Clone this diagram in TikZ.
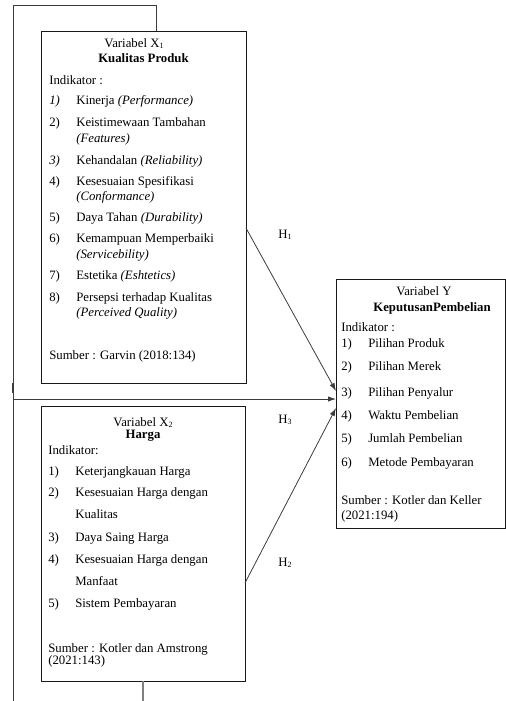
\documentclass[tikz,border=0pt]{standalone}
\usepackage{fontspec}
\setmainfont{Liberation Serif}
\usetikzlibrary{positioning,arrows.meta}
\definecolor{mygray}{HTML}{3c3c3c}
\newcommand{\subidx}[1]{\raisebox{-0.25ex}{\fontsize{6}{6}\selectfont #1}}

\begin{document}
\begin{tikzpicture}[x=0.75pt,y=-0.75pt,
        box/.style={rectangle, draw=black!90, line width=0.6pt, anchor=north west, inner sep=0pt, outer sep=0pt},
        txt/.style={anchor=base west, inner sep=0pt, font=\fontsize{9.6}{11}\selectfont},
        ttl/.style={anchor=base, inner sep=0pt, font=\fontsize{9.6}{11}\selectfont},
        line/.style={draw=mygray, line width=0.6pt},
        arr/.style={line, -{Latex[length=6pt,width=4pt]}}]
        \useasboundingbox (0,0) rectangle (506,701);
        % boxes
        \node[box, minimum width=153.75pt, minimum height=264pt] at (41,31) (X1) {};
        \node[box, minimum width=153pt, minimum height=206.25pt] at (41,406) (X2) {};
        \node[box, minimum width=127.1pt, minimum height=186.75pt] at (336,279) (Y) {};
        % variabel X1
        \node[ttl] at (134,47) (x1var) {Variabel X\subidx{1}};
        \node[ttl] at (143.5,62) (x1name) {\textbf{Kualitas Produk}};
        \node[txt] at (49,84) (x1ind) {Indikator :};
        \foreach \i/\y/\num/\item in {1/104/{\textit{1)}}/{Kinerja \textit{(Performance)}},
                2/126/{2)}/{Keistimewaan Tambahan},
                3/164/{\textit{3)}}/{Kehandalan \textit{(Reliability)}},
                4/185/{4)}/{Kesesuaian Spesifikasi},
                5/221/{5)}/{Daya Tahan \textit{(Durability)}},
                6/242/{6)}/{Kemampuan Memperbaiki},
                7/279/{7)}/{Estetika \textit{(Eshtetics)}},
                8/301/{8)}/{Persepsi terhadap Kualitas}}{
            \node[txt] at (49,\y) (x1n\i) {\num};
            \node[txt] at (76,\y) (x1i\i) {\item};
        }
        \node[txt] at (76,142) (x1w2) {\textit{(Features)}};
        \node[txt] at (76,200) (x1w4) {\textit{(Conformance)}};
        \node[txt] at (76,258) (x1w6) {\textit{(Servicebility)}};
        \node[txt] at (76,316) (x1w8) {\textit{(Perceived Quality)}};
        \node[txt] at (49,359) (x1src) {Sumber : Garvin (2018:134)};
        % variabel X2
        \node[ttl] at (143,426) (x2var) {Variabel X\subidx{2}};
        \node[ttl] at (143,438) (x2name) {\textbf{Harga}};
        \node[txt] at (48,454) (x2ind) {Indikator:};
        \foreach \i/\y/\item in {1/475/{Keterjangkauan Harga},
                2/496/{Kesesuaian Harga dengan},
                3/541/{Daya Saing Harga},
                4/563/{Kesesuaian Harga dengan},
                5/607/{Sistem Pembayaran}}{
            \node[txt] at (48,\y) (x2n\i) {\i)};
            \node[txt] at (75,\y) (x2i\i) {\item};
        }
        \node[txt] at (75,518) (x2w2) {Kualitas};
        \node[txt] at (75,585) (x2w4) {Manfaat};
        \node[txt] at (48,652) (x2src) {Sumber : Kotler dan Amstrong};
        \node[txt] at (48,664) (x2yr) {(2021:143)};
        % variabel Y
        \node[ttl] at (424,295) (yvar) {Variabel Y};
        \node[ttl] at (432,311) (yname) {\textbf{KeputusanPembelian}};
        \node[txt] at (341,331) (yind) {Indikator :};
        \foreach \i/\y/\item in {1/347/{Pilihan Produk},
                2/370/{Pilihan Merek},
                3/396/{Pilihan Penyalur},
                4/419/{Waktu Pembelian},
                5/442/{Jumlah Pembelian},
                6/466/{Metode Pembayaran}}{
            \node[txt] at (341,\y) (yn\i) {\i)};
            \node[txt] at (368,\y) (yi\i) {\item};
        }
        \node[txt] at (341,504) (ysrc) {Sumber : Kotler dan Keller};
        \node[txt] at (341,519) (yyr) {(2021:194)};
        % hipotesis labels
        \node[ttl, anchor=center] at (285,235) (h1) {H\subidx{1}};
        \node[ttl, anchor=center] at (285,420) (h3) {H\subidx{3}};
        \node[ttl, anchor=center] at (285,563) (h2) {H\subidx{2}};
        % frame lines
        \coordinate (tl) at (13,5);
        \coordinate (tr) at (156,5);
        \coordinate (bl) at (13,701);
        \coordinate (bb) at (143,701);
        \coordinate (k1) at (13,383);
        \coordinate (k2) at (13,393);
        \draw[line] (bl) -- (tl) -- (tr) -- (tr |- X1.north);
        \draw[line, line width=1.5pt] (k1) -- (k2);
        \draw[line, draw=gray, line width=1.2pt] (X2.south -| bb) -- (bb);
        % arrows
        \path (X1.north east) ++(0,197) coordinate (h1s);
        \path (Y.north west) ++(0,112) coordinate (h1e);
        \path (X2.north east) ++(0,177) coordinate (h2s);
        \path (Y.north west) ++(0,129) coordinate (h2e);
        \coordinate (h3s) at (13,399);
        \draw[arr] (h1s) -- (h1e);
        \draw[arr] (h3s) -- (h3s -| Y.west);
        \draw[arr] (h2s) -- (h2e);
\end{tikzpicture}
\end{document}
